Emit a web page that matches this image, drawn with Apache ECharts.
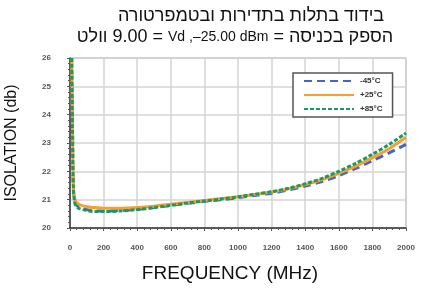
<!DOCTYPE html>
<html>
<head>
<meta charset="utf-8">
<script src="https://cdn.jsdelivr.net/npm/echarts@6/dist/echarts.min.js"></script>
<style>
  html, body { margin: 0; padding: 0; background: #fff; }
  #chart { width: 425px; height: 297px; }
</style>
</head>
<body>
<div id="chart"></div>
<script>
// frequencies (MHz) and isolation (dB) per temperature
var freqs = [10, 15, 20, 30, 50, 100, 150, 200, 300, 400, 500, 600, 700, 800, 900, 1000, 1100, 1200, 1300, 1400, 1500, 1600, 1700, 1800, 1900, 2000];
var isoM45 = [26.0, 23.5, 21.4, 20.9, 20.75, 20.65, 20.6, 20.6, 20.62, 20.66, 20.72, 20.8, 20.87, 20.94, 21.0, 21.07, 21.15, 21.23, 21.34, 21.48, 21.64, 21.85, 22.1, 22.38, 22.65, 22.95];
var isoP25 = [26.0, 23.6, 21.5, 21.0, 20.85, 20.75, 20.72, 20.7, 20.7, 20.72, 20.77, 20.84, 20.9, 20.97, 21.04, 21.1, 21.18, 21.27, 21.38, 21.53, 21.71, 21.93, 22.18, 22.48, 22.8, 23.2];
var isoP85 = [26.0, 23.5, 21.4, 20.85, 20.7, 20.62, 20.58, 20.58, 20.6, 20.65, 20.72, 20.8, 20.88, 20.95, 21.02, 21.1, 21.19, 21.28, 21.4, 21.56, 21.75, 22.0, 22.28, 22.6, 22.95, 23.35];
var seriesNames = ['-45°C', '+25°C', '+85°C'];

function pairs(ys) {
    return freqs.map(function (f, i) { return [f, ys[i]]; });
}

var myChart = echarts.init(document.getElementById('chart'));
var option = {
    animation: false,
    title: [
        {
            text: 'בידוד בתלות בתדירות ובטמפרטורה',
            left: 246,
            textAlign: 'center',
            top: 2,
            textStyle: { fontFamily: 'Liberation Sans', fontSize: 18, fontWeight: 'normal', color: '#111' }
        },
        {
            text: '{a|וולט }{a|9.00 = }{b|Vd}{b| ,–25.00 dBm}{a| = }{a|הספק בכניסה}',
            left: 230,
            textAlign: 'center',
            top: 23,
            textStyle: {
                fontWeight: 'normal',
                rich: {
                    a: { fontFamily: 'Liberation Sans', fontSize: 18, fontWeight: 'normal', color: '#111' },
                    b: { fontFamily: 'Liberation Sans', fontSize: 14, fontWeight: 'normal', color: '#111' }
                }
            }
        }
    ],
    legend: {
        orient: 'vertical',
        left: 293,
        top: 73,
        padding: [4, 10, 4, 10],
        itemGap: 6,
        itemWidth: 50,
        itemHeight: 10,
        borderColor: '#555',
        borderWidth: 1.5,
        backgroundColor: '#fff',
        itemStyle: { opacity: 0 },
        textStyle: { fontSize: 8, fontWeight: 'bold', color: '#333', padding: [0, 0, 0, 1] },
        data: seriesNames
    },
    grid: {
        left: 70, right: 19, top: 58, bottom: 69,
        outerBoundsMode: 'none',
        show: true, borderColor: '#999', borderWidth: 1
    },
    xAxis: {
        type: 'value',
        min: 0,
        max: 2000,
        interval: 200,
        name: 'FREQUENCY (MHz)',
        nameLocation: 'middle',
        nameGap: 36,
        nameTextStyle: { fontFamily: 'Liberation Sans', fontSize: 19, color: '#111', padding: [0, 16, 0, 0] },
        axisLine: { lineStyle: { color: '#333', width: 1.5 } },
        axisTick: { lineStyle: { color: '#555' }, length: 3 },
        minorTick: { show: true, splitNumber: 5, length: 2, lineStyle: { color: '#555' } },
        axisLabel: { fontSize: 8, fontWeight: 'bold', color: '#555', margin: 16, formatter: function (v) { return String(v); } },
        splitLine: { lineStyle: { color: '#d4d4d4', width: 1.5 } }
    },
    yAxis: {
        type: 'value',
        min: 20,
        max: 26,
        interval: 1,
        name: 'ISOLATION (db)',
        nameLocation: 'middle',
        nameGap: 50,
        nameTextStyle: { fontFamily: 'Liberation Sans', fontSize: 16, color: '#111' },
        axisLine: { show: true, lineStyle: { color: '#333', width: 1.5 } },
        axisTick: { show: true, lineStyle: { color: '#555' }, length: 3 },
        minorTick: { show: true, splitNumber: 5, length: 2, lineStyle: { color: '#555' } },
        axisLabel: { fontSize: 8, fontWeight: 'bold', color: '#555', margin: 19 },
        splitLine: { lineStyle: { color: '#d4d4d4', width: 1.5 } }
    },
    series: [
        {
            name: seriesNames[0],
            type: 'line',
            symbol: 'none',
            smooth: 0.3,
            data: pairs(isoM45),
            lineStyle: { color: '#4466cc', width: 3, type: [8, 5] },
            itemStyle: { color: '#4466cc' }
        },
        {
            name: seriesNames[1],
            type: 'line',
            symbol: 'none',
            smooth: 0.3,
            data: pairs(isoP25),
            lineStyle: { color: '#f5a030', width: 3 },
            itemStyle: { color: '#f5a030' }
        },
        {
            name: seriesNames[2],
            type: 'line',
            symbol: 'none',
            smooth: 0.3,
            data: pairs(isoP85),
            lineStyle: { color: '#1a9a5c', width: 3, type: [4, 2] },
            itemStyle: { color: '#1a9a5c' }
        }
    ]
};
myChart.setOption(option);
</script>
</body>
</html>
